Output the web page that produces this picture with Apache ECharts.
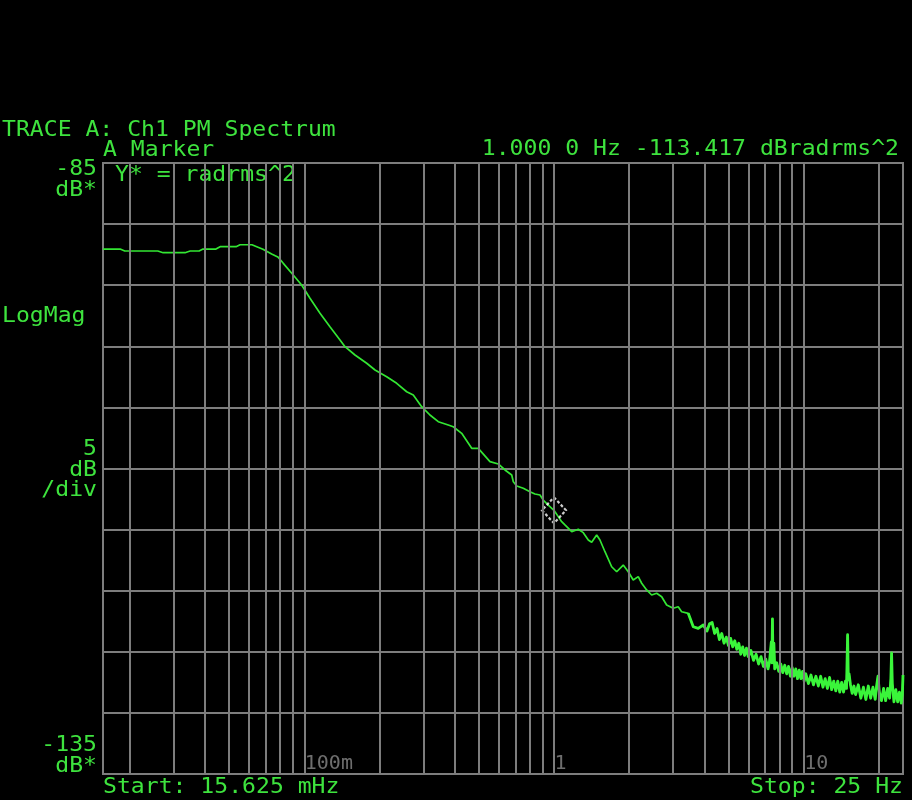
<!DOCTYPE html>
<html>
<head>
<meta charset="utf-8">
<script src="https://cdn.jsdelivr.net/npm/echarts@6/dist/echarts.min.js"></script>
<style>
html,body{margin:0;padding:0;background:#000;}
#chart{width:912px;height:800px;}
</style>
</head>
<body>
<div id="chart"></div>
<script>
// ---- data ----
const traceFreq = [
0.015625,0.0183,0.0191,0.0259,0.0272,0.0333,0.0349,0.0379,0.0393,0.0443,0.0460,0.0533,0.0553,0.0617,
0.0645,0.0683,0.0740,0.0787,0.0824,0.0903,0.0976,0.1054,0.1156,0.1267,0.1390,0.1456,0.1596,0.1778,
0.1920,0.2138,0.2345,0.2571,0.2732,0.2952,0.3186,0.3441,0.3773,0.3951,0.4270,0.4683,0.4975,0.5542,
0.5984,0.6366,0.6773,0.6874,0.7093,0.7536,0.8014,0.8393,0.8790,0.9061,0.9488,1.0,1.0405,1.0736,
1.1067,1.1778,1.2514,1.3105,1.3722,1.4159,1.4827,1.5284,1.6005,1.7026,1.7830,1.8944,1.9838,2.0772,
2.1755,2.2453,2.3512,2.4620,2.578,2.700,2.827,3.003,3.145,3.247,3.450,3.613,3.783,3.963,
4.1,4.2,4.3,4.4,4.5,4.6,4.7,4.8,4.9,5.0,5.1,5.2,5.3,5.4,5.5,5.6,5.7,5.8,5.9,6.0,
6.15,6.3,6.45,6.6,6.75,6.9,7.05,7.2,7.3,7.42,7.46,7.5,7.54,7.6,7.66,
7.8,7.95,8.1,8.25,8.4,8.55,8.7,8.85,9.0,9.15,9.3,9.45,9.6,9.75,9.9,10.05,10.2,
10.45,10.7,10.95,11.2,11.45,11.7,11.95,12.2,12.45,12.7,12.95,13.2,13.45,13.7,13.95,14.2,14.45,14.7,14.85,
15.0,15.1,15.2,15.4,15.65,15.9,16.15,
16.55,16.95,17.35,17.75,18.15,18.55,18.95,19.35,19.6,19.85,20.1,20.5,20.9,21.3,21.7,22.1,22.35,22.5,22.65,
23.0,23.4,23.8,24.2,24.6,24.85,25.0
];
const traceDb = [
-92.04,-92.04,-92.2,-92.2,-92.34,-92.34,-92.2,-92.2,-92.04,-92.04,-91.85,-91.85,-91.69,-91.69,
-91.85,-92.06,-92.45,-92.72,-93.21,-94.17,-94.98,-96.07,-97.30,-98.40,-99.48,-100.03,-100.71,-101.39,
-101.94,-102.49,-103.03,-103.72,-103.99,-104.94,-105.62,-106.17,-106.44,-106.58,-107.12,-108.35,-108.35,-109.44,
-109.63,-110.12,-110.53,-111.08,-111.43,-111.62,-111.90,-112.09,-112.17,-112.58,-112.99,-113.42,-113.94,-114.35,
-114.62,-115.17,-114.97,-115.25,-115.85,-116.04,-115.44,-115.85,-116.81,-118.04,-118.45,-117.90,-118.45,-119.12,
-118.85,-119.39,-119.94,-120.35,-120.21,-120.49,-121.17,-121.44,-121.31,-121.72,-121.85,-122.95,-123.08,-122.81,
-123.3,-122.7,-122.6,-123.5,-123.1,-124.0,-123.5,-124.3,-123.8,-124.5,-123.9,-124.6,-124.1,-124.8,-124.3,-125.2,-124.6,-125.3,-124.7,-125.4,
-124.9,-125.7,-125.2,-126.0,-125.4,-126.2,-125.6,-126.4,-125.8,-124.2,-125.9,-122.3,-125.9,-124.3,-126.4,
-125.9,-126.6,-126.0,-126.7,-126.1,-126.8,-126.2,-127.0,-126.3,-127.0,-126.4,-127.2,-126.5,-127.2,-126.6,-127.4,-126.8,
-127.6,-126.9,-127.7,-127.0,-127.8,-127.0,-127.9,-127.2,-128.0,-127.1,-128.1,-127.4,-128.2,-127.4,-128.3,-127.5,-128.3,-127.4,-128.0,
-123.6,-127.3,-126.8,-127.7,-128.4,-127.8,-128.5,
-127.7,-128.8,-127.9,-128.9,-127.8,-128.8,-127.9,-128.9,-127.8,-127.0,-128.3,-129.0,-128.0,-129.0,-128.0,-128.8,-127.2,-125.1,-127.6,
-129.1,-128.1,-129.1,-128.3,-129.2,-128.5,-126.9
];
const denseFromHz = 3.4;   // where the noise band of the trace becomes dense
const gridFreqs = [0.02,0.03,0.04,0.05,0.06,0.07,0.08,0.09,0.1,0.2,0.3,0.4,0.5,0.6,0.7,0.8,0.9,1,2,3,4,5,6,7,8,9,10,20];
const xTickFreqs = [0.1, 1, 10];
const xTickLabels = ['100m', '1', '10'];
const markerFreq = 1.0;
const markerDb = -113.417;
const yMin = -135, yMax = -85, yStep = 5;

// ---- chart ----
const GREEN = '#3ee33e';
const GRAY = '#7d7d7d';
const FONT = 'DejaVu Sans Mono';
const chart = echarts.init(document.getElementById('chart'), null, {renderer: 'canvas'});

function txt(text, x, y, align, opts) {
  return {
    type: 'text', x: x, y: y, scaleX: 1.1, silent: true,
    style: Object.assign({
      text: text, fill: GREEN, font: '21px "' + FONT + '"',
      textAlign: align || 'left', textVerticalAlign: 'middle'
    }, opts || {})
  };
}

const traceData = traceFreq.map((f, i) => [f, traceDb[i]]);
const denseData = traceData.filter(p => p[0] >= denseFromHz);

const option = {
  backgroundColor: '#000',
  animation: false,
  grid: {left: 103, top: 163, width: 800, height: 611, show: true, borderColor: GRAY, borderWidth: 2, backgroundColor: 'transparent'},
  xAxis: {
    type: 'log', logBase: 10, min: 0.015625, max: 25,
    axisLine: {show: false}, axisTick: {show: false}, axisLabel: {show: false},
    splitLine: {show: false}, minorSplitLine: {show: false}
  },
  yAxis: {
    type: 'value', min: yMin, max: yMax, interval: yStep,
    axisLine: {show: false}, axisTick: {show: false}, axisLabel: {show: false},
    splitLine: {show: true, lineStyle: {color: GRAY, width: 2}}
  },
  series: [
    {
      type: 'line', name: 'grid', data: [], z: 1, silent: true,
      markLine: {
        silent: true, symbol: ['none', 'none'], animation: false,
        label: {show: false},
        lineStyle: {color: GRAY, width: 2, type: 'solid'},
        emphasis: {disabled: true},
        data: gridFreqs.map(f => ({xAxis: f}))
      }
    },
    {
      type: 'scatter', name: 'ticks', z: 2, silent: true,
      symbolSize: 1, itemStyle: {color: 'rgba(0,0,0,0)'},
      label: {
        show: true, position: [0, 0], align: 'left', verticalAlign: 'bottom',
        offset: [1, 0], color: '#8a8a8a', fontFamily: FONT, fontSize: 20,
        formatter: p => p.name
      },
      data: xTickFreqs.map((f, i) => ({name: xTickLabels[i], value: [f, yMin]}))
    },
    {
      type: 'line', name: 'Trace A', z: 3, showSymbol: false, symbol: 'none',
      lineStyle: {color: '#33e633', width: 1.7},
      data: traceData
    },
    {
      type: 'line', name: 'Trace A band', z: 3, showSymbol: false, symbol: 'none',
      lineStyle: {color: '#3af53a', width: 2.8, join: 'round'},
      data: denseData
    },
    {
      type: 'scatter', name: 'marker', z: 4, silent: true,
      symbol: 'diamond', symbolSize: [24, 26],
      itemStyle: {color: 'rgba(0,0,0,0)', borderColor: '#ffffff', borderWidth: 2.2, borderType: [3, 2]},
      data: [[markerFreq, markerDb]]
    }
  ],
  graphic: [
    txt('TRACE A: Ch1 PM Spectrum', 2, 131),
    txt('A Marker', 103, 151),
    txt('1.000 0 Hz -113.417 dBradrms^2', 899, 150, 'right'),
    txt('-85', 97, 170, 'right'),
    txt('dB*', 97, 191, 'right'),
    txt('Y* = radrms^2', 115, 176),
    txt('LogMag', 2, 316.5),
    txt('5', 97, 450, 'right'),
    txt('dB', 97, 470.5, 'right'),
    txt('/div', 97, 491, 'right'),
    txt('-135', 97, 746, 'right'),
    txt('dB*', 97, 767, 'right'),
    txt('Start: 15.625 mHz', 103, 788),
    txt('Stop: 25 Hz', 903, 788, 'right')
  ]
};
chart.setOption(option);
</script>
</body>
</html>
